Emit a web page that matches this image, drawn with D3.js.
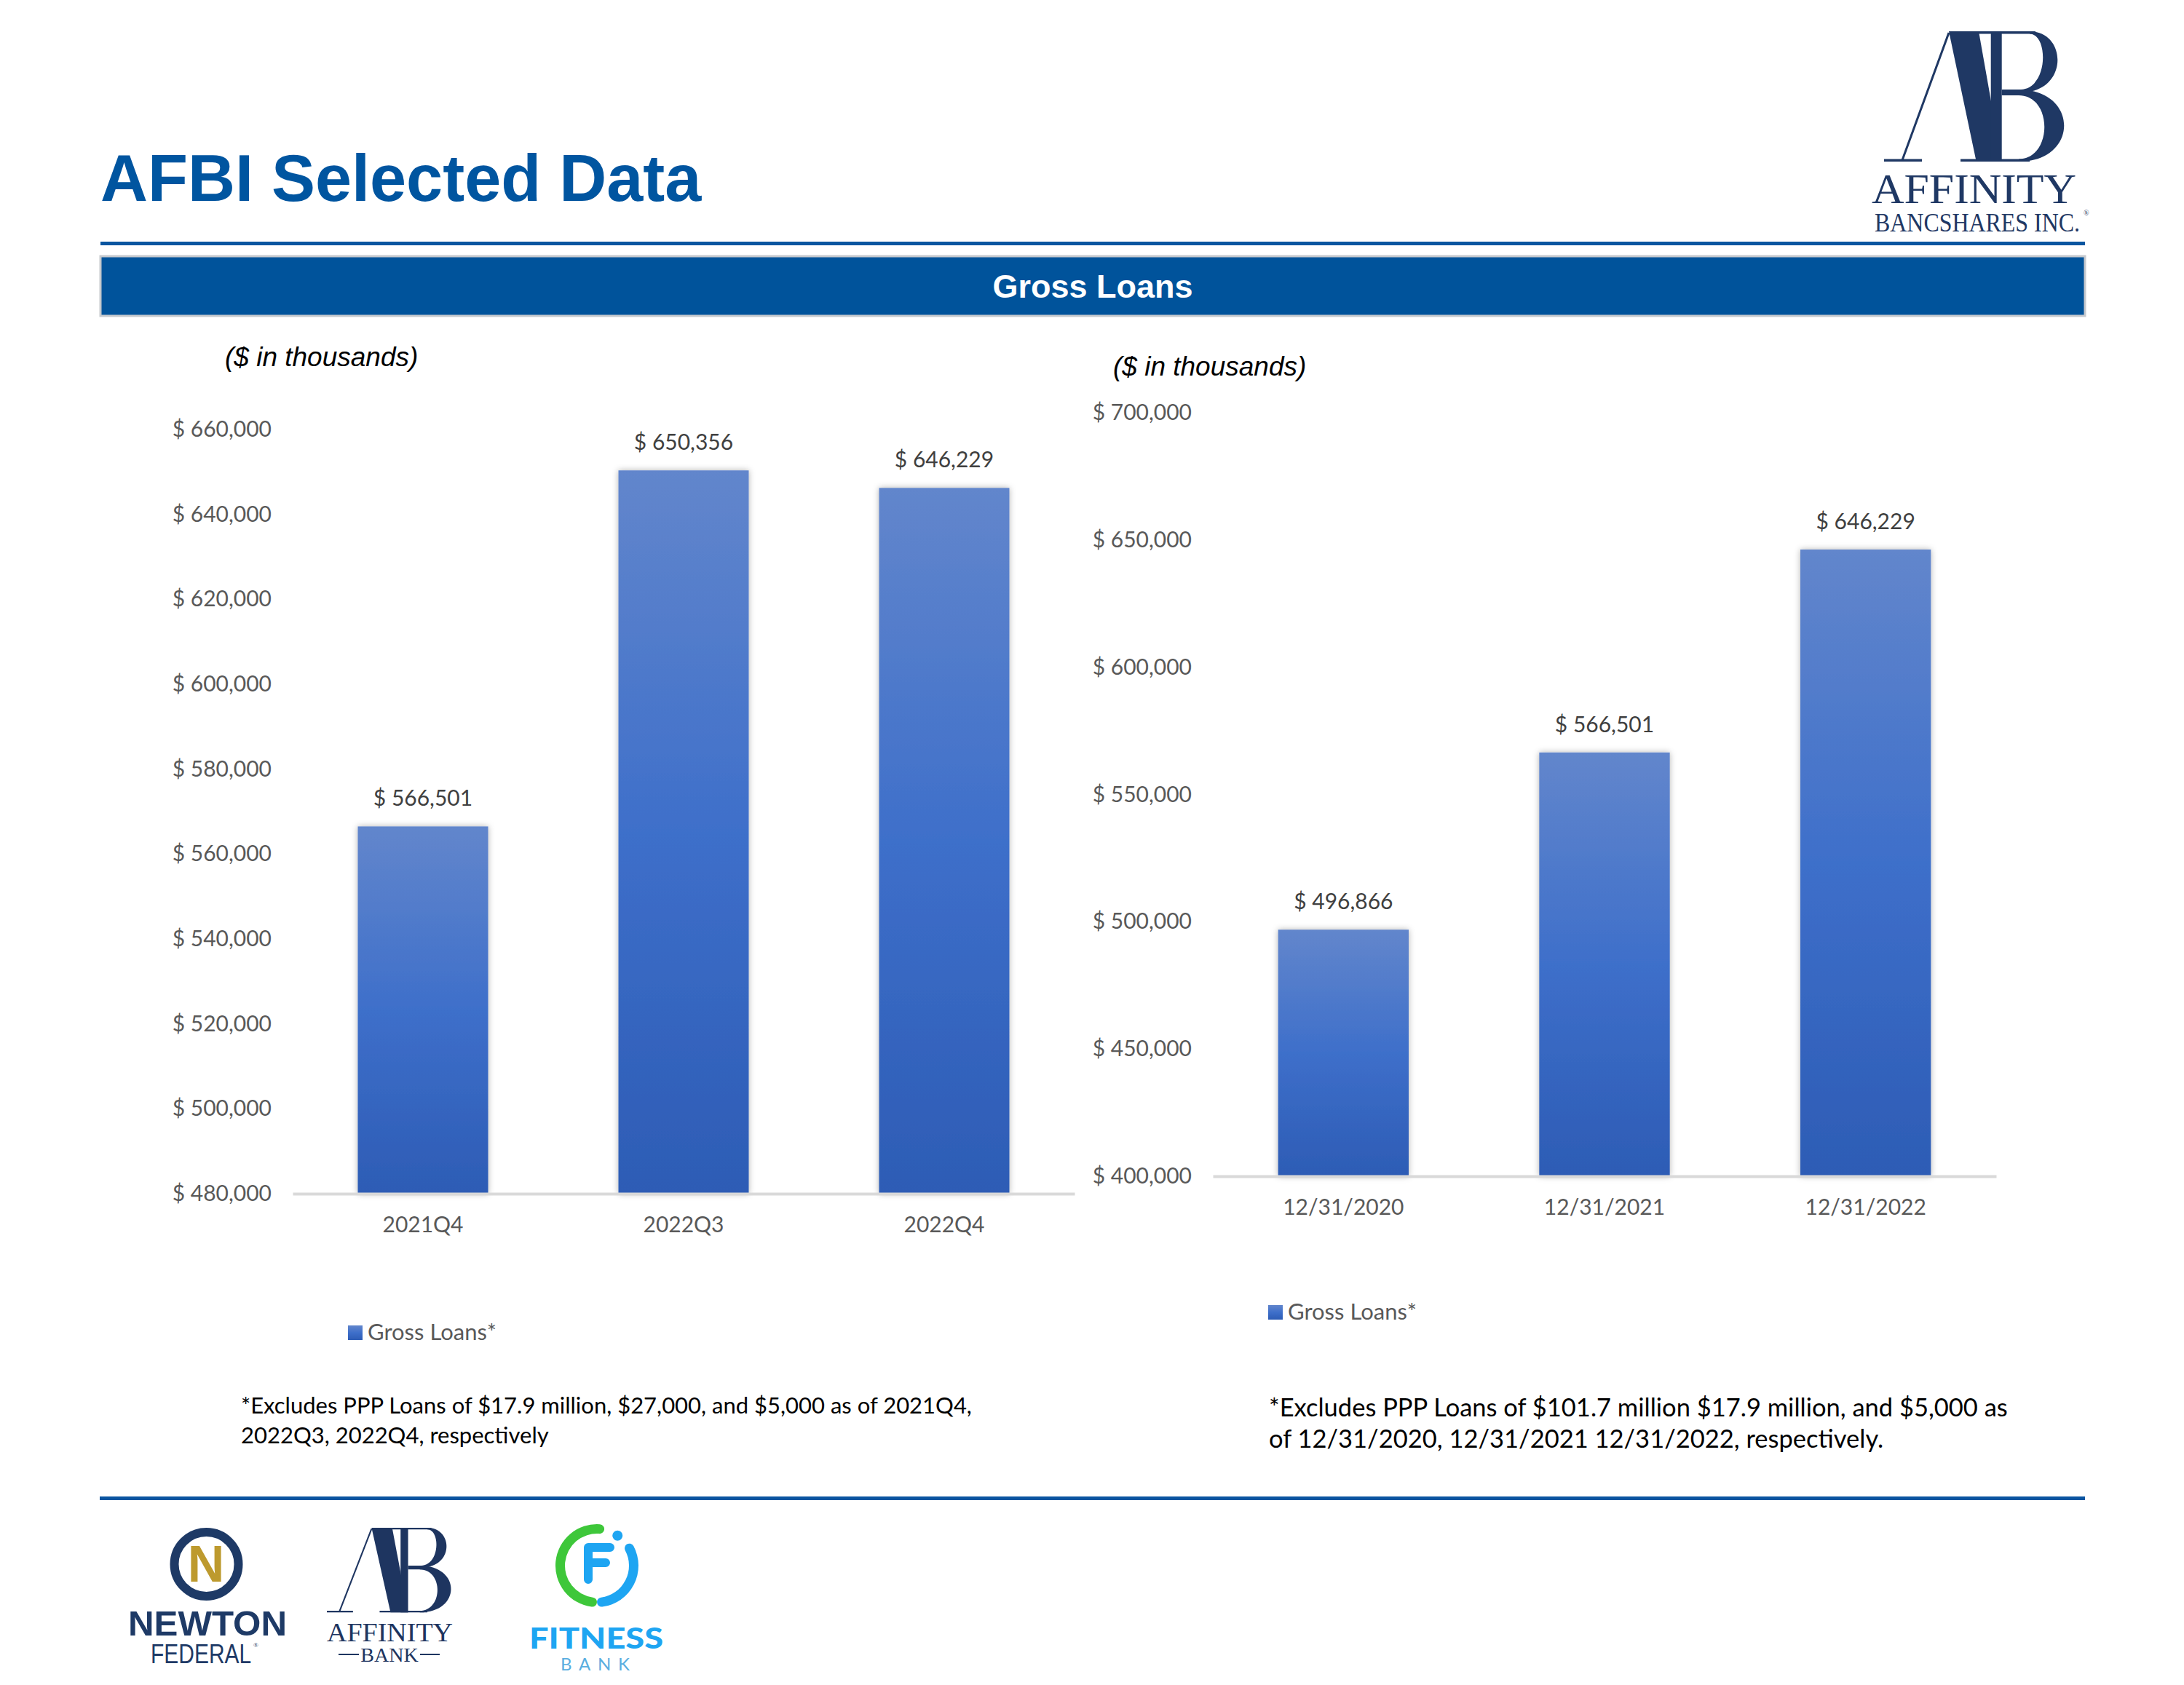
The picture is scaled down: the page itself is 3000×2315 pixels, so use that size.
<!DOCTYPE html>
<html>
<head>
<meta charset="utf-8">
<script src="https://cdn.jsdelivr.net/npm/d3@7"></script>
<style>
  body { margin: 0; background: #fff; }
  svg { display: block; }
</style>
</head>
<body>
<svg id="chart" width="3000" height="2315"></svg>
<script>
// left panel: recent quarters
const qtrLabels = ['2021Q4', '2022Q3', '2022Q4']
const qtrLoans = [566501, 650356, 646229]
const qtrTicks = [480000, 500000, 520000, 540000, 560000, 580000, 600000, 620000, 640000, 660000]

// right panel: year ends
const yearLabels = ['12/31/2020', '12/31/2021', '12/31/2022']
const yearLoans = [496866, 566501, 646229]
const yearTicks = [400000, 450000, 500000, 550000, 600000, 650000, 700000]

const pageTitle = 'AFBI Selected Data'
const bannerTitle = 'Gross Loans'
const legendLabel = 'Gross Loans*'
const unitsNote = '($ in thousands)'
const qtrNote = ['*Excludes PPP Loans of $17.9 million, $27,000, and $5,000 as of 2021Q4,', '2022Q3, 2022Q4, respectively']
const yearNote = ['*Excludes PPP Loans of $101.7 million $17.9 million, and $5,000 as', 'of 12/31/2020, 12/31/2021 12/31/2022, respectively.']

const font = 'Lato, "Open Sans", sans-serif'
const arial = '"Liberation Sans", Arial, sans-serif'
const serif = '"Liberation Serif", "Times New Roman", serif'
const navy = '#1f3864'
const money = (v) => '$ ' + d3.format(',')(v)

const svg = d3.select('#chart')
const defs = svg.append('defs')

let grad = defs.append('linearGradient').attr('id', 'barFill')
	.attr('x1', 0).attr('y1', 0).attr('x2', 0).attr('y2', 1)
grad.append('stop').attr('offset', '0%').attr('stop-color', '#6286cc')
grad.append('stop').attr('offset', '50%').attr('stop-color', '#3e6fca')
grad.append('stop').attr('offset', '100%').attr('stop-color', '#2d5cb5')

defs.append('filter').attr('id', 'barShadow')
	.attr('x', '-10%').attr('y', '-10%').attr('width', '120%').attr('height', '120%')
	.append('feDropShadow')
	.attr('dx', 0).attr('dy', 0).attr('stdDeviation', 4)
	.attr('flood-color', '#000').attr('flood-opacity', 0.3)

// ---- header ----
svg.append('text').attr('x', 138).attr('y', 276)
	.attr('font-family', arial).attr('font-weight', 'bold').attr('font-size', 90)
	.attr('fill', '#0055a0').text(pageTitle)

svg.append('rect').attr('x', 138).attr('y', 332).attr('width', 2726).attr('height', 5).attr('fill', '#0a55a0')

svg.append('rect').attr('x', 138).attr('y', 352).attr('width', 2726).attr('height', 82)
	.attr('fill', '#00539b').attr('stroke', '#c6c9ce').attr('stroke-width', 3)
svg.append('text').attr('x', 1501).attr('y', 409).attr('text-anchor', 'middle')
	.attr('font-family', arial).attr('font-weight', 'bold').attr('font-size', 45)
	.attr('fill', '#fff').text(bannerTitle)

svg.append('rect').attr('x', 137).attr('y', 2056).attr('width', 2727).attr('height', 5).attr('fill', '#0a55a0')

// ---- AB monogram, drawn in a 250 x 179 box ----
function monogram(g, color) {
	g.append('line').attr('x1', 25).attr('y1', 177).attr('x2', 89).attr('y2', 2)
		.attr('stroke', color).attr('stroke-width', 3)
	let shapes = [
		'M0,175.5 L52,175.5 L52,179 L0,179 Z',
		'M89,0 L130,0 L161.7,179 L126.7,179 Z',
		'M146.7,0 L161.7,0 L161.7,179 L146.7,179 Z',
		'M130,0 L208,0 L208,3.5 L130,3.5 Z',
		'M200,0 C252,0 254,84 188,84 L188,80 C226,78 226,4 200,3.5 Z',
		'M161.7,80 L192,80 L192,88 L161.7,88 Z',
		'M185,80 C268,80 268,179 185,179 L185,175.5 C232,175 232,88 185,88 Z',
		'M105,175.5 L200,175.5 L200,179 L105,179 Z'
	]
	g.selectAll('path.mono').data(shapes).enter().append('path')
		.attr('class', 'mono').attr('d', (d) => d).attr('fill', color)
}

// condensed word: natural glyphs squeezed horizontally by sx
function narrowText(g, x, y, sx, family, size, color, label) {
	return g.append('text')
		.attr('transform', 'translate(' + x + ',' + y + ') scale(' + sx + ',1)')
		.attr('font-family', family).attr('font-size', size).attr('fill', color).text(label)
}

// small raised ® just right of a word
function regMark(g, x, y, size, color) {
	g.append('text').attr('x', x).attr('y', y)
		.attr('font-family', serif).attr('font-size', size).attr('fill', color).text('®')
}

let topLogo = svg.append('g')
monogram(topLogo.append('g').attr('transform', 'translate(2588,43)'), navy)
topLogo.append('text').attr('x', 2571).attr('y', 279)
	.attr('font-family', serif).attr('font-size', 58).attr('fill', navy)
	.attr('textLength', 281).attr('lengthAdjust', 'spacingAndGlyphs').text('AFFINITY')
narrowText(topLogo, 2575, 318, 0.887, serif, 36, navy, 'BANCSHARES INC.')
regMark(topLogo, 2862, 296, 10, navy)

// ---- one bar panel ----
function drawPanel(o) {
	let x = d3.scaleBand().domain(o.cats).range([o.x0, o.x1]).paddingInner(0.5).paddingOuter(0.25)
	let y = d3.scaleLinear().domain([o.ticks[0], o.ticks[o.ticks.length - 1]]).range([o.yBase, o.yTop])
	let g = svg.append('g')

	g.append('text').attr('x', o.noteX).attr('y', o.noteY)
		.attr('font-family', arial).attr('font-style', 'italic').attr('font-size', 37)
		.attr('fill', '#000').text(unitsNote)

	// value axis, labels only
	let ya = g.append('g').attr('transform', 'translate(' + o.x0 + ',0)')
		.call(d3.axisLeft(y).tickValues(o.ticks).tickSize(0).tickPadding(29).tickFormat(money))
	ya.select('.domain').remove()
	ya.selectAll('text').attr('font-family', font).attr('font-size', 30).attr('fill', '#595959')

	g.selectAll('rect.bar').data(o.vals).enter().append('rect')
		.attr('class', 'bar')
		.attr('x', (d, i) => x(o.cats[i]))
		.attr('y', (d) => y(d))
		.attr('width', x.bandwidth())
		.attr('height', (d) => o.yBase - y(d))
		.attr('fill', 'url(#barFill)')
		.attr('filter', 'url(#barShadow)')

	g.selectAll('text.val').data(o.vals).enter().append('text')
		.attr('class', 'val')
		.attr('x', (d, i) => x(o.cats[i]) + x.bandwidth() / 2)
		.attr('y', (d) => y(d) - 28)
		.attr('text-anchor', 'middle')
		.attr('font-family', font).attr('font-size', 30).attr('fill', '#404040')
		.text(money)

	// category axis with a light baseline
	let xa = g.append('g').attr('transform', 'translate(0,' + o.yBase + ')')
		.call(d3.axisBottom(x).tickSize(0).tickPadding(32))
	xa.select('.domain').attr('stroke', '#d9d9d9').attr('stroke-width', 4)
	xa.selectAll('text').attr('font-family', font).attr('font-size', 30).attr('fill', '#595959')

	// legend
	g.append('rect').attr('x', o.legX).attr('y', o.legY - 10).attr('width', 20).attr('height', 20)
		.attr('fill', 'url(#barFill)')
	g.append('text').attr('x', o.legX + 27).attr('y', o.legY + 10)
		.attr('font-family', font).attr('font-size', 31).attr('fill', '#595959').text(legendLabel)

	// footnote
	g.selectAll('text.foot').data(o.foot).enter().append('text')
		.attr('class', 'foot')
		.attr('x', o.footX)
		.attr('y', (d, i) => o.footY + i * o.footGap)
		.attr('font-family', font).attr('font-size', o.footSize).attr('fill', '#000')
		.text((d) => d)
}

drawPanel({
	cats: qtrLabels, vals: qtrLoans, ticks: qtrTicks,
	x0: 402, x1: 1476, yBase: 1640, yTop: 590,
	noteX: 309, noteY: 503,
	legX: 478, legY: 1831,
	foot: qtrNote, footX: 331, footY: 1942, footGap: 41, footSize: 31
})

drawPanel({
	cats: yearLabels, vals: yearLoans, ticks: yearTicks,
	x0: 1666, x1: 2742, yBase: 1616, yTop: 567,
	noteX: 1529, noteY: 516,
	legX: 1742, legY: 1803,
	foot: yearNote, footX: 1743, footY: 1946, footGap: 43, footSize: 34.5
})

// ---- footer logos ----
let newton = svg.append('g')
newton.append('circle').attr('cx', 283.5).attr('cy', 2149).attr('r', 44)
	.attr('fill', 'none').attr('stroke', '#1e3a66').attr('stroke-width', 12)
newton.append('text').attr('x', 283).attr('y', 2173).attr('text-anchor', 'middle')
	.attr('font-family', arial).attr('font-weight', 'bold').attr('font-size', 70)
	.attr('fill', '#bd9a2e').text('N')
newton.append('text').attr('x', 176).attr('y', 2247)
	.attr('font-family', arial).attr('font-weight', 'bold').attr('font-size', 48)
	.attr('fill', '#1e3a66').attr('textLength', 218).attr('lengthAdjust', 'spacingAndGlyphs').text('NEWTON')
narrowText(newton, 207, 2285, 0.81, arial, 37, '#1e3a66', 'FEDERAL')
regMark(newton, 348, 2263, 9, '#1e3a66')

let bank = svg.append('g')
monogram(bank.append('g').attr('transform', 'translate(449,2099) scale(0.69,0.65)'), '#1e3560')
bank.append('text').attr('x', 449).attr('y', 2255)
	.attr('font-family', serif).attr('font-size', 35).attr('fill', '#1e3560')
	.attr('textLength', 173).attr('lengthAdjust', 'spacingAndGlyphs').text('AFFINITY')
bank.append('text').attr('x', 535).attr('y', 2283).attr('text-anchor', 'middle')
	.attr('font-family', serif).attr('font-size', 28).attr('fill', '#1e3560').text('BANK')
bank.append('line').attr('x1', 465).attr('x2', 493).attr('y1', 2273).attr('y2', 2273)
	.attr('stroke', '#1e3560').attr('stroke-width', 2)
bank.append('line').attr('x1', 577).attr('x2', 604).attr('y1', 2273).attr('y2', 2273)
	.attr('stroke', '#1e3560').attr('stroke-width', 2)

let fit = svg.append('g').attr('transform', 'translate(820,2151)')
let ring = d3.arc().innerRadius(44).outerRadius(57).cornerRadius(6.5)
fit.append('path').attr('d', ring({startAngle: Math.PI, endAngle: 2 * Math.PI + 0.2})).attr('fill', '#3ec73a')
fit.append('path').attr('d', ring({startAngle: 0.95, endAngle: Math.PI})).attr('fill', '#1ea5f2')
fit.append('circle').attr('cx', 50 * Math.sin(0.6)).attr('cy', -50 * Math.cos(0.6)).attr('r', 7).attr('fill', '#1ea5f2')
fit.append('path').attr('d', 'M18,-25 L-12,-25 L-12,19 M-12,-4 L12,-4')
	.attr('fill', 'none').attr('stroke', '#1ea5f2').attr('stroke-width', 12)
	.attr('stroke-linecap', 'round').attr('stroke-linejoin', 'round')
svg.append('text').attr('x', 727).attr('y', 2265)
	.attr('font-family', font).attr('font-weight', 900).attr('font-size', 40)
	.attr('fill', '#1ea5f2').attr('textLength', 184).attr('lengthAdjust', 'spacingAndGlyphs').text('FITNESS')
svg.append('text').attr('x', 770).attr('y', 2295)
	.attr('font-family', font).attr('font-size', 24)
	.attr('fill', '#5aaee0').attr('textLength', 95).attr('lengthAdjust', 'spacing').text('BANK')
</script>
</body>
</html>
